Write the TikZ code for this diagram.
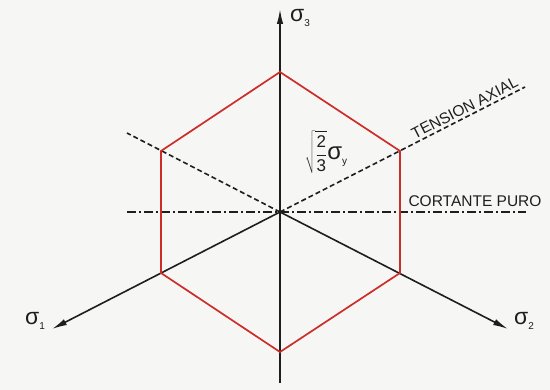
\documentclass[tikz,border=0pt]{standalone}
\usepackage{fontspec}
\setmainfont{Liberation Sans}
\usetikzlibrary{arrows.meta}
\definecolor{hexred}{RGB}{205,45,40}
\definecolor{bgcol}{RGB}{246,246,244}
\definecolor{ink}{RGB}{30,30,30}
\begin{document}
\begin{tikzpicture}[x=1pt,y=-1pt,
  axisline/.style={draw=ink, line width=1.6pt},
  axisarrow/.style={draw=ink, line width=1.6pt, -{Latex[length=15pt,width=6.5pt]}},
  hexline/.style={draw=hexred, line width=1.7pt, line join=miter},
  dashline/.style={draw=ink, line width=1.6pt, dash pattern=on 5pt off 3pt},
  dashdot/.style={draw=ink, line width=1.5pt, dash pattern=on 9pt off 3pt on 2pt off 3pt},
  every node/.style={inner sep=0pt, text=ink},
  caps/.style={font=\fontsize{15.5}{15.5}\selectfont},
  sig/.style={font=\fontsize{23}{23}\selectfont}]
\fill[bgcol] (0,0) rectangle (550,390);
\useasboundingbox (0,0) rectangle (550,390);
\coordinate (O) at (280,212);
\coordinate (v1) at (280,72);
\coordinate (v2) at (400,151);
\coordinate (v3) at (400,273);
\coordinate (v4) at (280,352);
\coordinate (v5) at (161,273);
\coordinate (v6) at (161,151);
\coordinate (s3) at (280,9);
\coordinate (s1) at (52,329);
\coordinate (s2) at (508,329);
\coordinate (vb) at (280,383);
\coordinate (ta) at (525,87);
\coordinate (ul) at (127,133);
\coordinate (hl) at (127,212);
\coordinate (hr) at (526,212);
\draw[axisline] (vb) -- (O);
\draw[axisarrow] (O) -- (s3);
\draw[axisarrow] (O) -- (s1);
\draw[axisarrow] (O) -- (s2);
\draw[dashline] (O) -- (ta) node[pos=0.77, sloped, above=2.5pt, caps] (tlab) {TENSION AXIAL};
\draw[dashline] (O) -- (ul);
\draw[dashdot] (hl) -- (hr);
\draw[hexline] (v1)--(v2)--(v3)--(v4)--(v5)--(v6)--cycle;
\node[caps, anchor=base] (clab) at (475,207) {CORTANTE PURO};
\node[sig] (l3) at (300,18) {σ\raisebox{-5pt}{\fontsize{10}{10}\selectfont 3}};
\node[sig] (l1) at (35,321) {σ\raisebox{-5pt}{\fontsize{10}{10}\selectfont 1}};
\node[sig] (l2) at (524,321) {σ\raisebox{-5pt}{\fontsize{10}{10}\selectfont 2}};
\node (rad) at (326,152) {\fontsize{17}{17}\selectfont $\displaystyle\sqrt{\frac{\mbox{2}}{\mbox{3}}}\mbox{\fontsize{24}{24}\selectfont σ\raisebox{-5pt}{\fontsize{10}{10}\selectfont y}}$};
\end{tikzpicture}
\end{document}
